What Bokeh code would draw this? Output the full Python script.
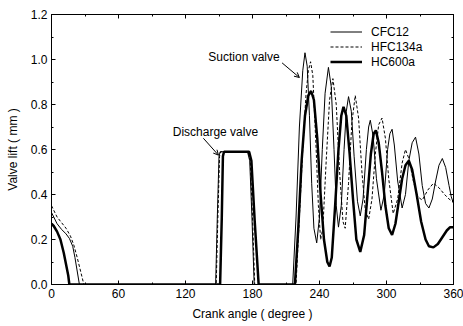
from bokeh.plotting import figure
from bokeh.models import (Range1d, FixedTicker, LinearAxis, Label, Arrow, OpenHead,
                          Legend, LegendItem, PrintfTickFormatter, CustomLabelingPolicy)
from bokeh.embed import file_html
from bokeh.resources import INLINE

# ---- data ----
cfc12_angle = [0, 2, 5, 9, 13, 16, 19, 21, 23, 25,
               147, 148.5, 150, 151, 175.5, 177.5, 179.5, 181.5,
               216, 219, 222, 225, 227, 229, 231, 233, 235, 237.5, 240, 242.5, 245, 248, 250.5,
               253, 255, 257, 259.5, 262, 264, 266, 268.5, 271, 274, 276.5, 279, 282, 284, 285.5,
               288, 291, 295, 298, 301, 303, 305, 307, 310, 314, 317, 320, 323, 326, 329, 332,
               335, 338, 341, 344, 347, 350, 353, 356, 358, 360]
cfc12_lift = [0.32, 0.30, 0.27, 0.245, 0.225, 0.205, 0.17, 0.12, 0.06, 0.0,
              0.0, 0.30, 0.57, 0.59, 0.59, 0.55, 0.30, 0.0,
              0.0, 0.30, 0.70, 0.95, 1.03, 0.97, 0.75, 0.45, 0.25, 0.185, 0.30, 0.60, 0.85, 0.965, 0.88,
              0.60, 0.35, 0.255, 0.35, 0.60, 0.77, 0.835, 0.77, 0.57, 0.37, 0.305, 0.38, 0.60, 0.70, 0.73,
              0.66, 0.47, 0.33, 0.40, 0.60, 0.67, 0.69, 0.62, 0.46, 0.34, 0.40, 0.55, 0.63, 0.655, 0.58, 0.44,
              0.36, 0.34, 0.38, 0.46, 0.53, 0.56, 0.52, 0.44, 0.39, 0.36]

hfc134a_angle = [0, 2, 5, 9, 13, 17, 20, 23, 26, 29,
                 147.5, 149, 150.5, 151.5, 176, 178, 180, 182,
                 219, 222, 225, 228, 230, 232, 234, 237, 239, 241, 243, 246, 249, 252, 255,
                 258, 261, 263, 266, 269, 272, 275, 278, 281, 284, 287, 290, 293, 296, 299,
                 302, 306, 310, 314, 317, 320, 324, 328, 332, 337, 342, 347, 352, 356, 360]
hfc134a_lift = [0.35, 0.33, 0.30, 0.275, 0.25, 0.215, 0.175, 0.12, 0.06, 0.0,
                0.0, 0.30, 0.57, 0.59, 0.59, 0.55, 0.30, 0.0,
                0.0, 0.30, 0.60, 0.85, 0.95, 0.99, 0.93, 0.60, 0.35, 0.20, 0.25, 0.55, 0.82, 0.915, 0.80,
                0.50, 0.28, 0.25, 0.45, 0.72, 0.84, 0.74, 0.50, 0.33, 0.29, 0.38, 0.58, 0.71, 0.74, 0.65,
                0.47, 0.315, 0.38, 0.54, 0.60, 0.56, 0.46, 0.39, 0.375, 0.42, 0.45, 0.43, 0.40, 0.38, 0.365]

hc600a_angle = [0, 2, 5, 8, 11, 13, 15, 16,
                151, 152.5, 153.5, 154.5, 177, 179, 182, 185.5,
                218, 221, 224, 227, 230, 232.5, 235, 238, 241, 244, 247, 249, 251, 254, 257,
                259.5, 261.5, 264, 267, 270, 273, 276.5, 280, 283, 286, 288.5, 290.5, 293, 296,
                299, 302, 305, 308, 311, 314, 317, 320, 323, 327, 331, 335, 338, 342, 346, 350,
                354, 357, 360]
hc600a_lift = [0.27, 0.26, 0.235, 0.20, 0.14, 0.09, 0.04, 0.0,
               0.0, 0.30, 0.57, 0.59, 0.59, 0.55, 0.28, 0.0,
               0.0, 0.25, 0.55, 0.75, 0.84, 0.86, 0.82, 0.65, 0.40, 0.20, 0.10, 0.08, 0.12, 0.35, 0.60,
               0.75, 0.79, 0.75, 0.58, 0.38, 0.20, 0.145, 0.22, 0.40, 0.58, 0.67, 0.685, 0.63, 0.50,
               0.35, 0.25, 0.22, 0.27, 0.37, 0.47, 0.53, 0.55, 0.51, 0.40, 0.28, 0.20, 0.17, 0.165, 0.18, 0.21,
               0.24, 0.255, 0.255]

series_names = ["CFC12", "HFC134a", "HC600a"]
x_ticks = [0, 60, 120, 180, 240, 300, 360]
x_minor = [30, 90, 150, 210, 270, 330]
y_ticks = [0.0, 0.2, 0.4, 0.6, 0.8, 1.0, 1.2]
y_minor = [0.1, 0.3, 0.5, 0.7, 0.9, 1.1]

FONT = "Liberation Sans"

p = figure(width=463, height=326, output_backend="svg", toolbar_location=None,
           x_range=Range1d(0, 360), y_range=Range1d(0, 1.2),
           min_border_left=51, min_border_right=10, min_border_top=14, min_border_bottom=42,
           x_axis_label="Crank angle ( degree )", y_axis_label="Valve lift ( mm )")
p.xgrid.visible = False
p.ygrid.visible = False
p.outline_line_color = "black"
p.outline_line_width = 1
p.background_fill_color = "white"
p.border_fill_color = "white"


def style_axis(ax, ticks, minor, show_labels=True):
    ax.ticker = FixedTicker(ticks=ticks, minor_ticks=minor)
    ax.major_tick_in = 4
    ax.major_tick_out = 0
    ax.minor_tick_in = 2
    ax.minor_tick_out = 0
    ax.axis_line_color = "black"
    ax.major_tick_line_color = "black"
    ax.minor_tick_line_color = "black"
    ax.major_label_text_font = FONT
    ax.major_label_text_font_size = "12px"
    ax.major_label_text_color = "black"
    ax.axis_label_text_font = FONT
    ax.axis_label_text_font_size = "12px"
    ax.axis_label_text_font_style = "normal"
    ax.axis_label_text_color = "black"
    if not show_labels:
        ax.major_label_text_font_size = "0px"
        ax.major_label_standoff = 0
        ax.major_label_policy = CustomLabelingPolicy(
            code="return new indices.constructor(indices.size, 0)")


style_axis(p.xaxis[0], x_ticks, x_minor)
style_axis(p.yaxis[0], y_ticks, y_minor)
p.yaxis[0].formatter = PrintfTickFormatter(format="%.1f")
p.xaxis[0].major_label_standoff = 4
p.yaxis[0].major_label_standoff = 4
p.xaxis[0].axis_label_standoff = 6
p.yaxis[0].axis_label_standoff = 8

top = LinearAxis()
right = LinearAxis()
style_axis(top, x_ticks, x_minor, show_labels=False)
style_axis(right, y_ticks, y_minor, show_labels=False)
p.add_layout(top, "above")
p.add_layout(right, "right")

r1 = p.line(cfc12_angle, cfc12_lift, line_color="black", line_width=1)
r2 = p.line(hfc134a_angle, hfc134a_lift, line_color="black", line_width=1, line_dash="3 2")
r3 = p.line(hc600a_angle, hc600a_lift, line_color="black", line_width=2.5)

legend = Legend(items=[LegendItem(label=series_names[0], renderers=[r1]),
                       LegendItem(label=series_names[1], renderers=[r2]),
                       LegendItem(label=series_names[2], renderers=[r3])],
                location=(279, 215), border_line_color=None, background_fill_alpha=0,
                padding=0, margin=0, spacing=0, glyph_width=32, glyph_height=15,
                label_height=15, label_standoff=9, label_text_font=FONT,
                label_text_font_size="12px", label_text_color="black")
p.add_layout(legend)

p.add_layout(Label(x=172.4, y=1.01, text="Suction valve", text_align="center",
                   text_baseline="middle", text_font=FONT, text_font_size="12px",
                   text_color="black"))
p.add_layout(Label(x=146.8, y=0.68, text="Discharge valve", text_align="center",
                   text_baseline="middle", text_font=FONT, text_font_size="12px",
                   text_color="black"))
p.add_layout(Arrow(end=OpenHead(size=5, line_width=1), x_start=206.5, y_start=0.985,
                   x_end=222, y_end=0.92, line_width=1, line_color="black"))
p.add_layout(Arrow(end=OpenHead(size=5, line_width=1), x_start=136, y_start=0.65,
                   x_end=149.5, y_end=0.575, line_width=1, line_color="black"))

open("out.html", "w").write(file_html(p, INLINE))
